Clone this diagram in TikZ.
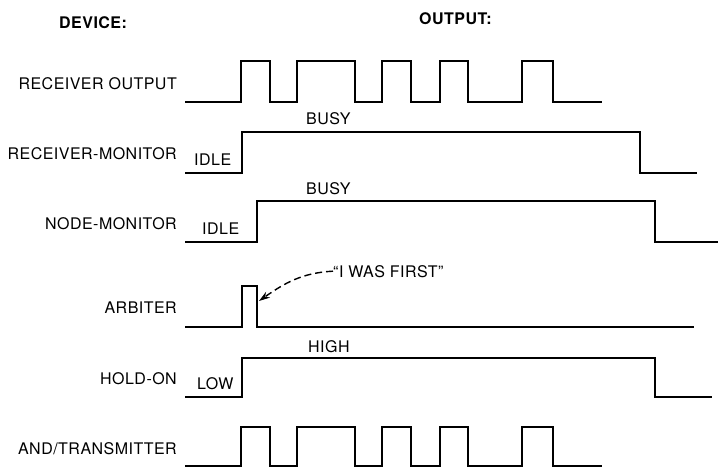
\documentclass[tikz,border=0pt]{standalone}
\usepackage{fontspec}
\setmainfont{TeX Gyre Heros}[LetterSpace=3]
\usetikzlibrary{arrows.meta}
\begin{document}
\begin{tikzpicture}[x=1pt,y=-1pt,>={Stealth[length=11pt,width=7pt]},line join=miter,font=\fontsize{16}{18}\selectfont,
	wave/.style={line width=2.6pt},
	devlab/.style={anchor=base east,inner sep=0pt},
	statlab/.style={anchor=base west,inner sep=0pt}]
	\useasboundingbox (0,0) rectangle (720,467);
	\node[statlab,font=\fontsize{16}{18}\selectfont\bfseries] (device) at (59,28) {DEVICE:};
	\node[statlab,font=\fontsize{16}{18}\selectfont\bfseries] (output) at (419,24) {OUTPUT:};
	\foreach \n/\t/\y in {rxout/RECEIVER OUTPUT/89,rxmon/RECEIVER-MONITOR/159,nodemon/NODE-MONITOR/229,
		arb/ARBITER/313,hold/HOLD-ON/384,txm/{AND/TRANSMITTER}/454}
	\node[devlab] (\n) at (177,\y) {\t};
	% pulse trains
	\foreach \y/\h in {102/61,466/427}
	\draw[wave] (185,\y) foreach \a/\b in {241/270,297/355,382/411,440/468,522/553}{-|(\a,\h)-|(\b,\y)}--(602,\y);
	\draw[wave] (185,173)-|(242,132)-|(640,173)--(697,173);
	\draw[wave] (185,242)-|(257,201)-|(655,242)--(718,242);
	\draw[wave] (185,327)-|(242,286)-|(257,327)--(694,327);
	\draw[wave] (185,397)-|(242,358)-|(655,397)--(712,397);
	\foreach \n/\t/\x/\y in {idle1/IDLE/194/165,busy1/BUSY/306/124,idle2/IDLE/202/234,busy2/BUSY/306/194,
		low/LOW/197/389,high/HIGH/308/352,first/\textquotedblleft I WAS FIRST\textquotedblright/333/277}
	\node[statlab] (\n) at (\x,\y) {\t};
	\coordinate (arbtip) at (259,301);
	\draw[->,line width=1.4pt,dash pattern=on 7pt off 4pt] (first.west) to[out=183,in=35] (arbtip);
\end{tikzpicture}
\end{document}
